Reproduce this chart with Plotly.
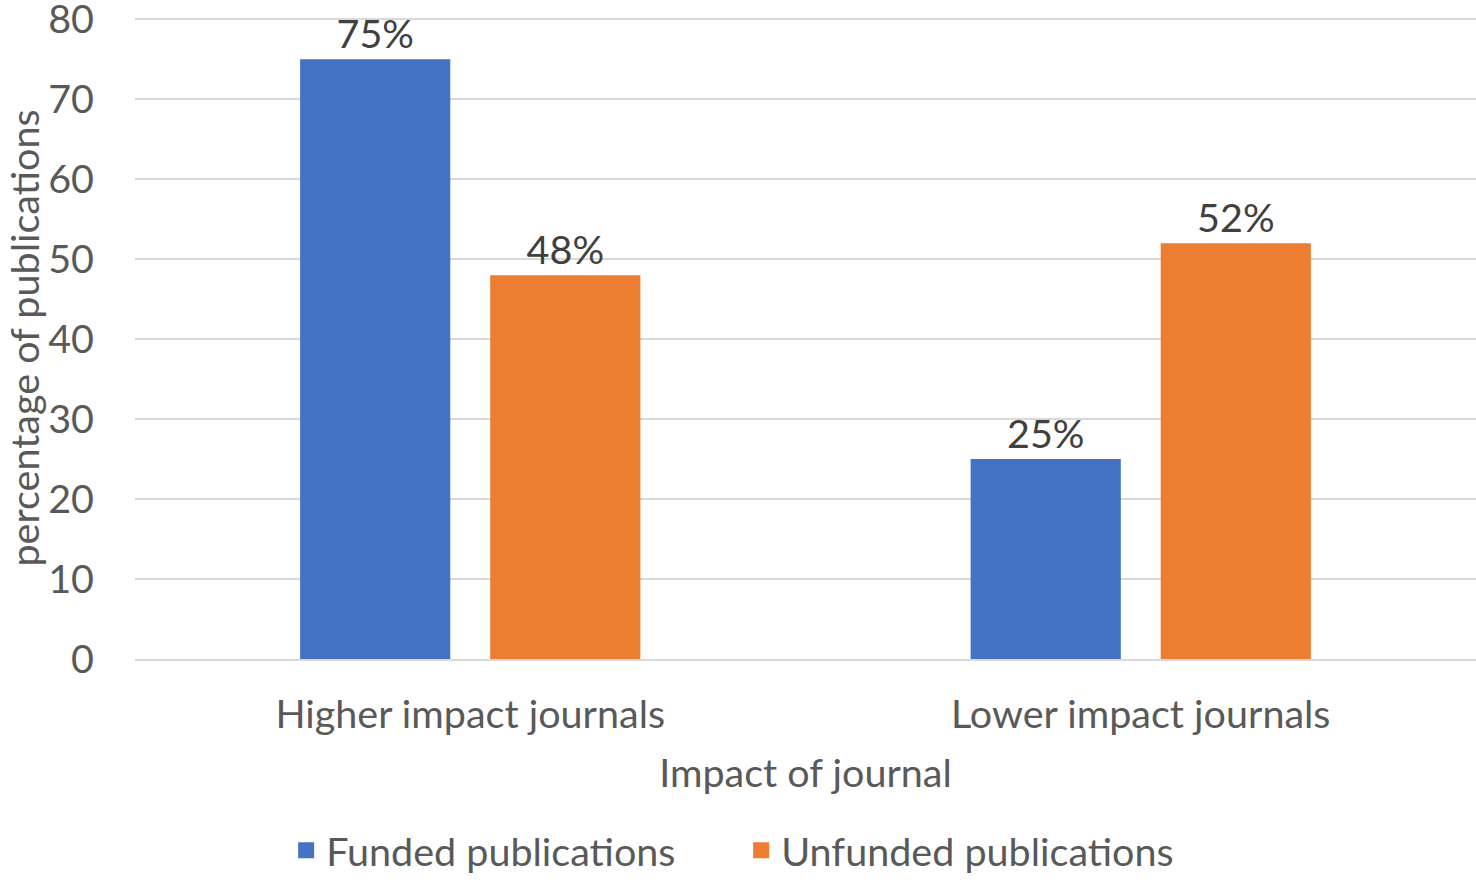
import plotly.graph_objects as go

# Share of publications by journal impact, funded vs unfunded
categories = ["Higher impact journals", "Lower impact journals"]
funded = [75, 25]
unfunded = [48, 52]
series_names = ["Funded publications", "Unfunded publications"]
y_ticks = [0, 10, 20, 30, 40, 50, 60, 70, 80]

BLUE = "#4472C4"
ORANGE = "#ED7D31"
FONT = "Lato"
GREY = "#595959"
LABEL = "#404040"
SIZE = 39.5

fig = go.Figure()
for name, vals, color in [(series_names[0], funded, BLUE), (series_names[1], unfunded, ORANGE)]:
    fig.add_trace(go.Bar(
        x=categories, y=vals, name=name, marker_color=color, marker_line_width=0,
        text=[f"{v}%" for v in vals], textposition="outside", cliponaxis=False,
        textfont=dict(family=FONT, size=SIZE, color=LABEL),
        showlegend=False,
    ))
    # legend entry with a larger square swatch
    fig.add_trace(go.Scatter(
        x=[None], y=[None], mode="markers", name=name,
        marker=dict(symbol="square", size=16, color=color),
    ))

fig.update_layout(
    width=1476, height=883,
    margin=dict(l=135, r=0, t=17, b=224),
    paper_bgcolor="white", plot_bgcolor="white",
    barmode="group", bargap=0.433, bargroupgap=0.21,
    font=dict(family=FONT, color=GREY, size=SIZE),
    legend=dict(orientation="h", x=0.452, xanchor="center", xref="paper",
                y=0, yanchor="bottom", yref="container",
                font=dict(size=SIZE, color=GREY, family=FONT), itemsizing="trace",
                entrywidth=410),
    showlegend=True,
)
fig.update_yaxes(
    range=[0, 80.3], tickvals=y_ticks, showgrid=True, gridcolor="#D9D9D9", gridwidth=2,
    zeroline=False, showline=False, ticks="", ticklabelstandoff=40, automargin=False,
    ticklabeloverflow="allow",
    tickfont=dict(size=SIZE, color=GREY, family=FONT),
    title=dict(text="percentage of publications", font=dict(size=SIZE, color=GREY, family=FONT)),
)
fig.update_xaxes(
    showline=True, linecolor="#D9D9D9", linewidth=2, ticks="", ticklabelstandoff=20,
    automargin=False,
    tickfont=dict(size=SIZE, color=GREY, family=FONT),
    title=dict(text="Impact of journal", font=dict(size=SIZE, color=GREY, family=FONT), standoff=24),
)

fig.write_html("out.html")
